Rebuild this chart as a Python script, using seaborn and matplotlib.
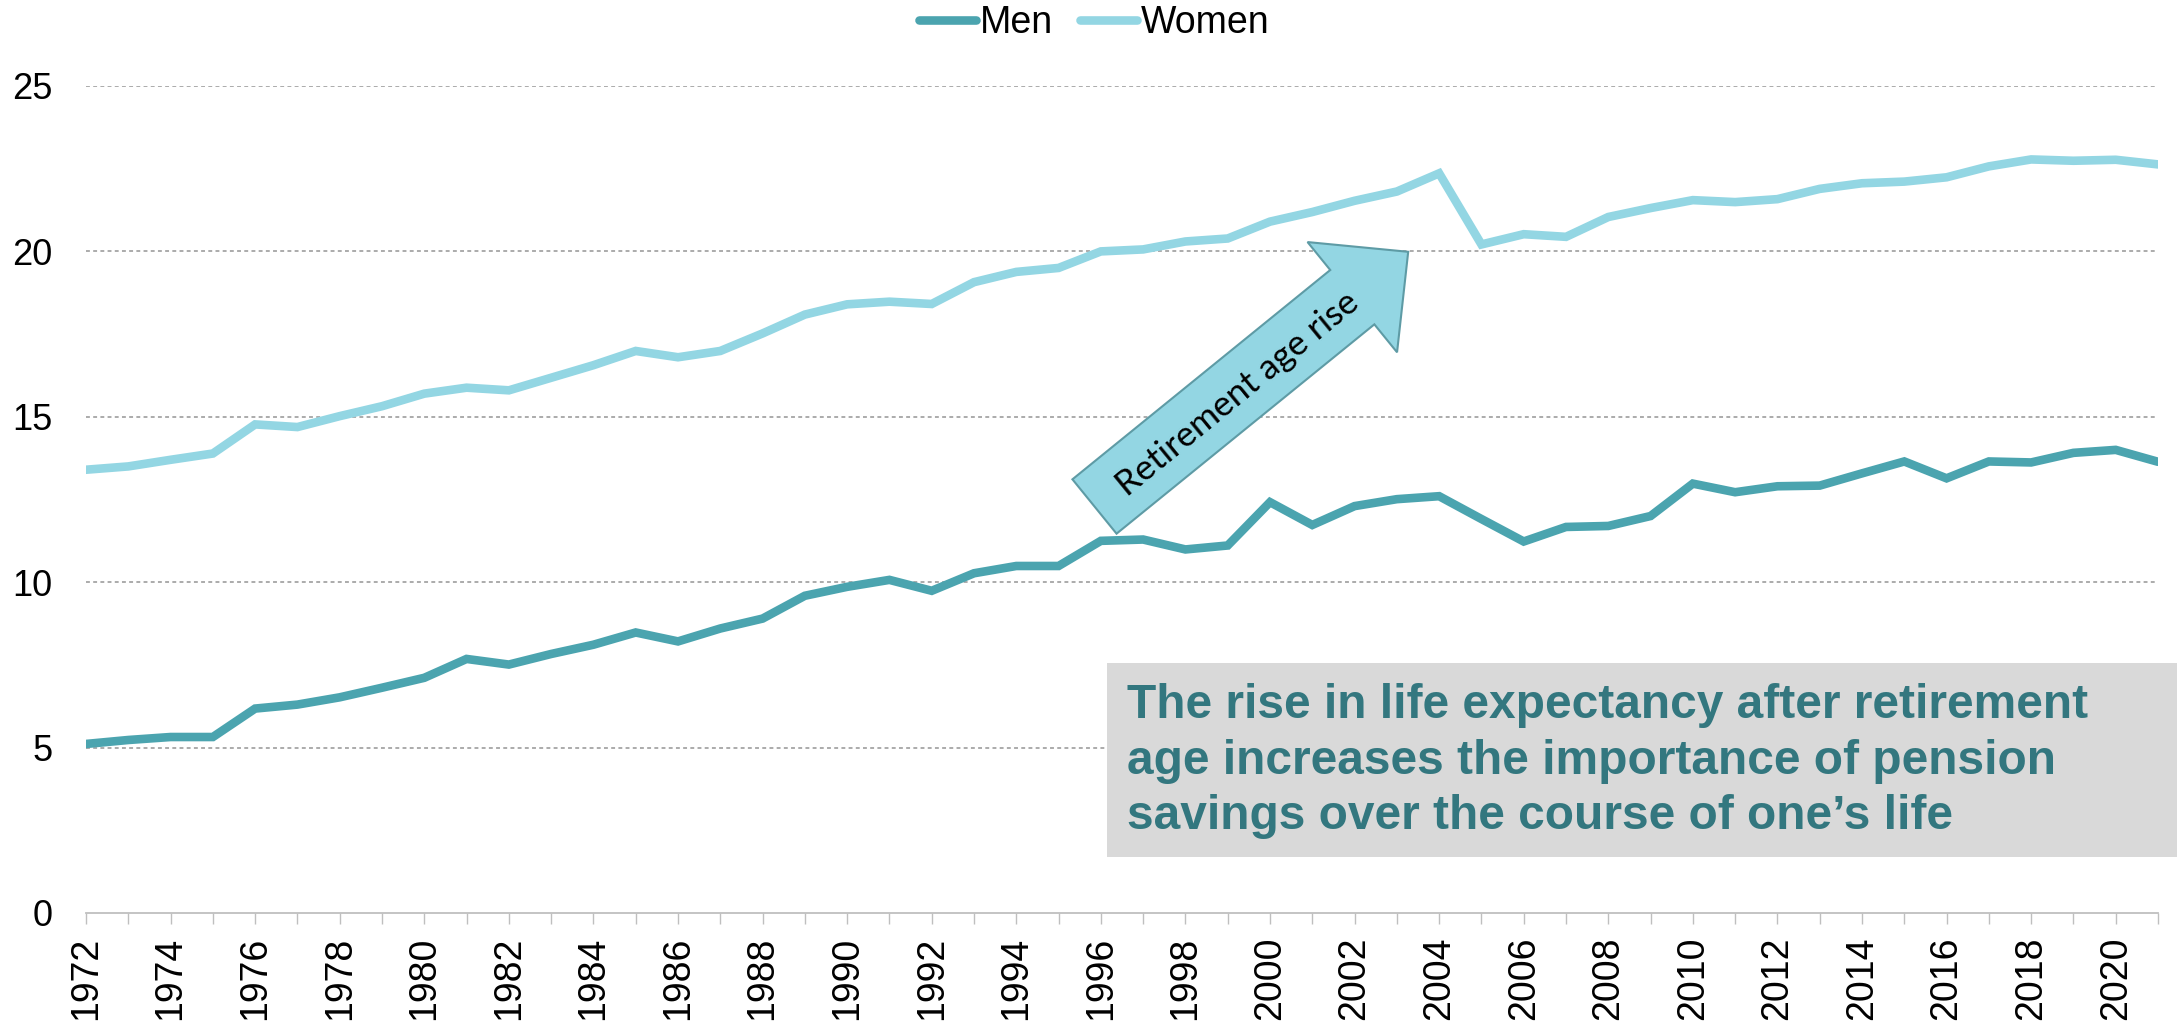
import pandas as pd
import matplotlib.pyplot as plt
import seaborn as sns
from matplotlib.patches import FancyArrow, Rectangle

# ============================
# DATA
# ============================
years = list(range(1972, 2022))

men = [5.11, 5.23, 5.32, 5.32, 6.18, 6.30, 6.52, 6.81, 7.11, 7.68,
       7.51, 7.83, 8.11, 8.48, 8.21, 8.60, 8.90, 9.59, 9.86, 10.07,
       9.74, 10.27, 10.49, 10.49, 11.25, 11.29, 10.99, 11.11, 12.42, 11.73,
       12.30, 12.51, 12.60, 11.91, 11.23, 11.67, 11.70, 12.00, 12.98, 12.72,
       12.90, 12.92, 13.29, 13.65, 13.14, 13.65, 13.62, 13.91, 14.00, 13.64]

women = [13.40, 13.50, 13.70, 13.89, 14.77, 14.69, 15.02, 15.32, 15.70, 15.88,
         15.80, 16.18, 16.56, 16.99, 16.80, 16.99, 17.52, 18.09, 18.40, 18.48,
         18.41, 19.07, 19.38, 19.50, 20.00, 20.06, 20.30, 20.39, 20.90, 21.19,
         21.53, 21.81, 22.36, 20.21, 20.52, 20.44, 21.04, 21.31, 21.55, 21.49,
         21.58, 21.89, 22.06, 22.11, 22.24, 22.57, 22.78, 22.74, 22.77, 22.63]

series_names = ["Men", "Women"]
colors = {"Men": "#4BA4AF", "Women": "#93D6E3"}

arrow_label = "Retirement age rise"
box_text = ("The rise in life expectancy after retirement\n"
            "age increases the importance of pension\n"
            "savings over the course of one\u2019s life")

df = pd.DataFrame({
    "Year": years + years,
    "Value": men + women,
    "Sex": ["Men"] * len(years) + ["Women"] * len(years),
})

# ============================
# STYLE
# ============================
sns.set_style("white")
plt.rcParams["font.family"] = ["Liberation Sans", "DejaVu Sans"]
plt.rcParams["text.color"] = "black"

W, H = 2177, 1021
fig = plt.figure(figsize=(W / 100, H / 100), dpi=100)
ax = fig.add_axes([86 / W, 1 - 913 / H, (2158 - 86) / W, (913 - 86) / H])

sns.lineplot(data=df, x="Year", y="Value", hue="Sex", hue_order=series_names,
             palette=colors, legend=False, ax=ax, zorder=3)
for ln in ax.lines:
    ln.set_linewidth(6.2)
    ln.set_solid_capstyle("round")
    ln.set_solid_joinstyle("miter")

ax.set_xlim(1972, 2021)
ax.set_ylim(0, 25)
ax.set_yticks(range(0, 26, 5))
ax.set_xticks(range(1972, 2022, 2))
ax.set_xticks(range(1973, 2022, 2), minor=True)
ax.set_xlabel("")
ax.set_ylabel("")

for s in ["left", "right", "top"]:
    ax.spines[s].set_visible(False)
ax.spines["bottom"].set_color("#BFBFBF")
ax.spines["bottom"].set_linewidth(1.3)

ax.tick_params(axis="x", which="both", direction="out", length=8, width=1,
               color="#BFBFBF", bottom=True)
ax.tick_params(axis="x", which="major", labelsize=27, labelrotation=90, pad=9,
               labelcolor="black")
ax.tick_params(axis="y", length=0, labelsize=26, pad=24, labelcolor="black")

ax.yaxis.grid(True, color="#ABABAB", linewidth=1.4, linestyle=(0, (2.0, 1.7)))
ax.xaxis.grid(False)
for gl, v in zip(ax.get_ygridlines(), ax.get_yticks()):
    if v == 0:
        gl.set_visible(False)

# legend
leg = ax.legend(ax.lines[:2], series_names, loc="center", ncol=2, frameon=False,
                fontsize=27, handlelength=1.52, handletextpad=0.1,
                columnspacing=0.72, borderpad=0,
                bbox_to_anchor=(1094 / W, 1 - 23 / H),
                bbox_transform=fig.transFigure)
for t in leg.get_texts():
    t.set_color("black")

# arrow annotation (figure inches)
arrow = FancyArrow(10.945, (H - 506.5) / 100, 3.137, 2.547, width=0.70,
                   head_width=1.42, head_length=0.72, length_includes_head=True,
                   transform=fig.dpi_scale_trans, facecolor="#93D6E3",
                   edgecolor="#5E9BA5", linewidth=1.5, zorder=5)
fig.add_artist(arrow)
fig.text(1237.5 / W, 1 - 393.5 / H, arrow_label, family=["Lato", "DejaVu Sans"],
         fontsize=25.5, rotation=39.3, rotation_mode="anchor", ha="center",
         va="center", color="black", zorder=6)

# grey message box
box = Rectangle((1107 / W, 1 - 857 / H), 1 - 1107 / W, (857 - 663) / H,
                transform=fig.transFigure, facecolor="#D9D9D9", edgecolor="none",
                zorder=5)
fig.add_artist(box)
fig.text(1127 / W, 1 - 683 / H, box_text, fontsize=34.5, fontweight="bold",
         color="#33777F", ha="left", va="top", linespacing=1.3, zorder=6)

plt.savefig("out.png", dpi=100)
plt.close()
